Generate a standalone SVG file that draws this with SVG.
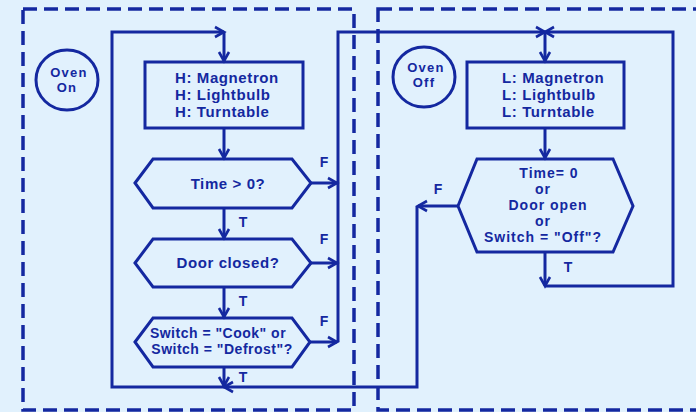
<svg xmlns="http://www.w3.org/2000/svg" width="696" height="412" viewBox="0 0 696 412">
<style>
.bd{fill:none;stroke:#1428a0;stroke-width:3.5;stroke-dasharray:14 7}
.sh{fill:none;stroke:#1428a0;stroke-width:3}
.ln{fill:none;stroke:#1428a0;stroke-width:3}
text{font-family:"Liberation Sans",Arial,sans-serif;font-weight:bold;fill:#1428a0;text-anchor:middle}
.t15{font-size:15px;letter-spacing:0.6px}
.t14{font-size:14px;letter-spacing:0.5px}
.t14w{font-size:14px;letter-spacing:1px}
.t13{font-size:13px;letter-spacing:1.3px}
.lb{font-size:14px}
</style>
<defs>
<marker id="ar" markerUnits="userSpaceOnUse" markerWidth="14" markerHeight="14" refX="10" refY="6" orient="auto" viewBox="0 0 14 12">
<path d="M1,1 L10,6 L1,11" fill="none" stroke="#1428a0" stroke-width="2.6"/>
</marker>
</defs>
<rect width="696" height="412" fill="#e1f1fd"/>
<g id="frames">
<rect class="bd" x="23" y="9" width="331" height="401"/>
<rect class="bd" x="378" y="9" width="330" height="401"/>
</g>
<g id="connectors">
<path class="ln" d="M417,206 L417,387 L224,387" marker-end="url(#ar)"/>
<path class="ln" d="M224,387 L112,387 L112,32 L224,32" marker-end="url(#ar)"/>
<path class="ln" d="M224,32 L224,61" marker-end="url(#ar)"/>
<path class="ln" d="M224,128 L224,158" marker-end="url(#ar)"/>
<path class="ln" d="M224,208 L224,238" marker-end="url(#ar)"/>
<path class="ln" d="M224,287 L224,317" marker-end="url(#ar)"/>
<path class="ln" d="M224,367 L224,386" marker-end="url(#ar)"/>
<path class="ln" d="M311,183 L337,183" marker-end="url(#ar)"/>
<path class="ln" d="M311,263 L337,263" marker-end="url(#ar)"/>
<path class="ln" d="M310,342 L337,342" marker-end="url(#ar)"/>
<path class="ln" d="M338,342 L338,32 L545,32" marker-end="url(#ar)"/>
<path class="ln" d="M545,252 L545,286" marker-end="url(#ar)"/>
<path class="ln" d="M545,286 L673,286 L673,32 L545,32" marker-end="url(#ar)"/>
<path class="ln" d="M545,32 L545,61" marker-end="url(#ar)"/>
<path class="ln" d="M545,128 L545,158" marker-end="url(#ar)"/>
<path class="ln" d="M458,206 L418,206" marker-end="url(#ar)"/>
<text class="lb" x="324" y="167">F</text>
<text class="lb" x="324" y="244">F</text>
<text class="lb" x="324" y="326">F</text>
<text class="lb" x="243" y="227">T</text>
<text class="lb" x="243" y="306">T</text>
<text class="lb" x="243" y="382">T</text>
<text class="lb" x="438" y="194">F</text>
<text class="lb" x="568" y="272">T</text>
</g>
<g id="oven-on">
<ellipse class="sh" cx="67" cy="80" rx="31" ry="30"/>
<text class="t13" x="69" y="77">Oven</text>
<text class="t13" x="67" y="92">On</text>
</g>
<g id="oven-off">
<ellipse class="sh" cx="424" cy="77" rx="31" ry="30"/>
<text class="t13" x="426" y="72">Oven</text>
<text class="t13" x="424" y="87">Off</text>
</g>
<g id="high">
<rect class="sh" x="145" y="62" width="158" height="66"/>
<text class="t15" x="175" y="83" style="text-anchor:start">H: Magnetron</text>
<text class="t15" x="175" y="100" style="text-anchor:start">H: Lightbulb</text>
<text class="t15" x="175" y="117" style="text-anchor:start">H: Turntable</text>
</g>
<g id="time-check">
<path class="sh" d="M135,183 L153,159 L292,159 L311,183 L292,208 L153,208 Z"/>
<text class="t15" x="228" y="189">Time &gt; 0?</text>
</g>
<g id="door-check">
<path class="sh" d="M135,263 L153,239 L292,239 L311,263 L292,287 L153,287 Z"/>
<text class="t15" x="228" y="268">Door closed?</text>
</g>
<g id="switch-check">
<path class="sh" d="M135,342 L153,318 L292,318 L310,342 L292,367 L153,367 Z"/>
<text class="t14" x="218" y="338">Switch = "Cook" or</text>
<text class="t14" x="222" y="354">Switch = "Defrost"?</text>
</g>
<g id="low">
<rect class="sh" x="467" y="62" width="157" height="66"/>
<text class="t15" x="502" y="83" style="text-anchor:start">L: Magnetron</text>
<text class="t15" x="502" y="100" style="text-anchor:start">L: Lightbulb</text>
<text class="t15" x="502" y="117" style="text-anchor:start">L: Turntable</text>
</g>
<g id="off-check">
<path class="sh" d="M458,206 L477,159 L613,159 L633,206 L613,252 L477,252 Z"/>
<text class="t14w" x="549" y="178">Time= 0</text>
<text class="t14w" x="543" y="194">or</text>
<text class="t14w" x="548" y="210">Door open</text>
<text class="t14w" x="543" y="226">or</text>
<text class="t14w" x="543" y="242">Switch = "Off"?</text>
</g>
</svg>
